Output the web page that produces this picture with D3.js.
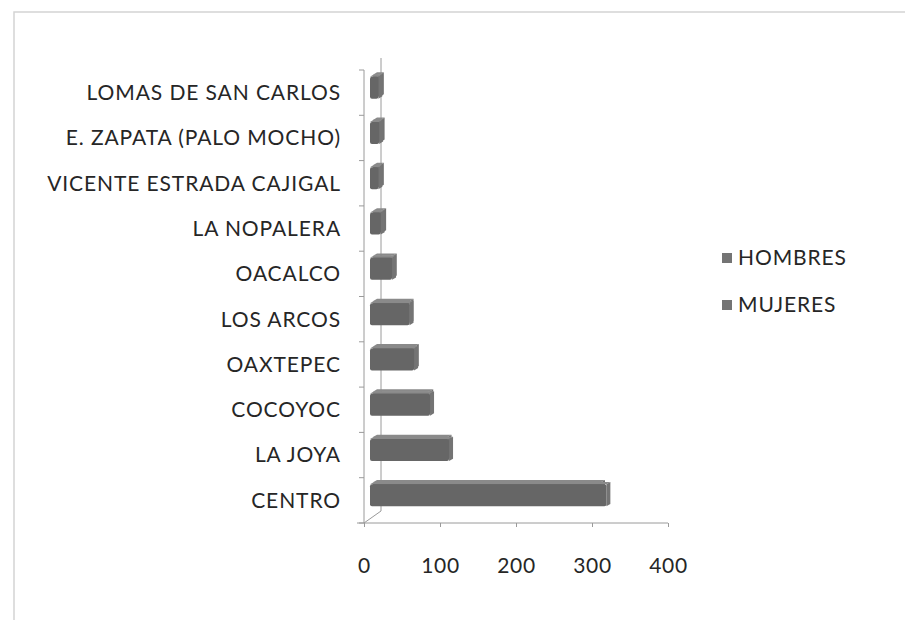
<!DOCTYPE html>
<html>
<head>
<meta charset="utf-8">
<script src="https://cdn.jsdelivr.net/npm/d3@7"></script>
<style>
  body { margin: 0; background: #fff; }
  svg { display: block; }
</style>
</head>
<body>
<div id="container"><svg></svg></div>
<script>
let width = 905;
let height = 620;

// categories bottom to top
let categories = ['CENTRO', 'LA JOYA', 'COCOYOC', 'OAXTEPEC', 'LOS ARCOS', 'OACALCO',
    'LA NOPALERA', 'VICENTE ESTRADA CAJIGAL', 'E. ZAPATA (PALO MOCHO)', 'LOMAS DE SAN CARLOS'];
let hombres = [311, 104, 79, 58, 52, 29, 14, 11, 12, 11];
let mujeres = [300, 98, 74, 55, 48, 26, 12, 9, 10, 9];   // hidden behind the front series
let seriesNames = ['HOMBRES', 'MUJERES'];
let xTicks = [0, 100, 200, 300, 400];

let font = 'Lato, "Open Sans", sans-serif';
let textColor = '#262626';

function draw_chart() {
    let svg = d3.select('#container').select('svg')
        .attr('width', width)
        .attr('height', height);

    // outer frame (scan)
    svg.append('path')
        .attr('d', 'M14,620 L14,12 L905,12')
        .attr('fill', 'none')
        .attr('stroke', '#d4d4d4')
        .attr('stroke-width', 1.5);

    let x = d3.scaleLinear().domain([0, 400]).range([364, 668]);
    let y = d3.scaleBand().domain(categories).range([523, 70]);

    // 3d offsets
    let dx = 6, dy = -5;        // front series
    let backX = 17, backY = -12; // back wall

    // walls
    let g = svg.append('g').attr('stroke', '#9a9a9a').attr('fill', 'none');
    g.append('line').attr('x1', x(0) + backX).attr('x2', x(0) + backX)
        .attr('y1', 70 + backY).attr('y2', 523 + backY);
    g.append('line').attr('x1', x(0)).attr('y1', 523)
        .attr('x2', x(0) + backX).attr('y2', 523 + backY);
    g.append('line').attr('x1', x(0)).attr('x2', x(0))
        .attr('y1', 70).attr('y2', 523);

    // category ticks on front axis
    g.selectAll('line.ct')
        .data(d3.range(categories.length + 1))
        .join('line')
        .attr('class', 'ct')
        .attr('x1', x(0) - 5).attr('x2', x(0))
        .attr('y1', i => 523 - i * y.step())
        .attr('y2', i => 523 - i * y.step());

    // x axis
    let xAxis = svg.append('g')
        .attr('transform', 'translate(0,523)')
        .call(d3.axisBottom(x).tickValues(xTicks).tickSize(4).tickPadding(31));
    xAxis.select('.domain').attr('stroke', '#9a9a9a').attr('d', 'M357,0H668');
    xAxis.selectAll('.tick line').attr('stroke', '#9a9a9a');
    xAxis.selectAll('.tick text')
        .attr('font-family', font).attr('font-size', 21)
        .attr('letter-spacing', 0.6).attr('fill', textColor);

    // bars as 3d boxes
    let bh = 22;
    function box(sel, vals, ox, oy, shade) {
        let depth = 4;
        let rows = sel.selectAll('g')
            .data(categories.map((c, i) => ({c: c, v: vals[i]})))
            .join('g');
        rows.each(function (d) {
            let gg = d3.select(this);
            let x0 = x(0) + ox, x1 = x(d.v) + ox;
            let yc = y(d.c) + y.bandwidth() / 2 + oy;
            let y0 = yc - bh / 2;
            // top face
            gg.append('path')
                .attr('d', `M${x0},${y0} L${x0 + depth},${y0 - depth * 0.6} L${x1 + depth},${y0 - depth * 0.6} L${x1},${y0} Z`)
                .attr('fill', shade[1]);
            // right face
            gg.append('path')
                .attr('d', `M${x1},${y0} L${x1 + depth},${y0 - depth * 0.6} L${x1 + depth},${y0 + bh - depth * 0.6} L${x1},${y0 + bh} Z`)
                .attr('fill', shade[2]);
            // front face
            gg.append('rect')
                .attr('x', x0).attr('y', y0)
                .attr('width', Math.max(0, x1 - x0)).attr('height', bh)
                .attr('rx', 2)
                .attr('fill', shade[0]);
        });
    }
    box(svg.append('g'), mujeres, dx + 3, dy - 2, ['#6a6a6a', '#8a8a8a', '#727272']);
    box(svg.append('g'), hombres, dx, dy, ['#666666', '#8a8a8a', '#747474']);

    // category labels
    svg.append('g')
        .selectAll('text')
        .data(categories)
        .join('text')
        .attr('x', 341)
        .attr('y', d => y(d) + y.bandwidth() / 2)
        .attr('dy', '0.35em')
        .attr('text-anchor', 'end')
        .attr('font-family', font)
        .attr('font-size', 21)
        .attr('letter-spacing', 0.9)
        .attr('fill', textColor)
        .text(d => d);

    // legend
    let legend = svg.append('g')
        .selectAll('g')
        .data(seriesNames)
        .join('g')
        .attr('transform', (d, i) => `translate(722,${258 + i * 47})`);
    legend.append('rect')
        .attr('x', 0).attr('y', -5).attr('width', 10).attr('height', 10)
        .attr('fill', '#747474');
    legend.append('text')
        .attr('x', 16).attr('dy', '0.35em')
        .attr('font-family', font).attr('font-size', 21)
        .attr('letter-spacing', 0.9).attr('fill', textColor)
        .text(d => d);
}

draw_chart();
</script>
</body>
</html>
